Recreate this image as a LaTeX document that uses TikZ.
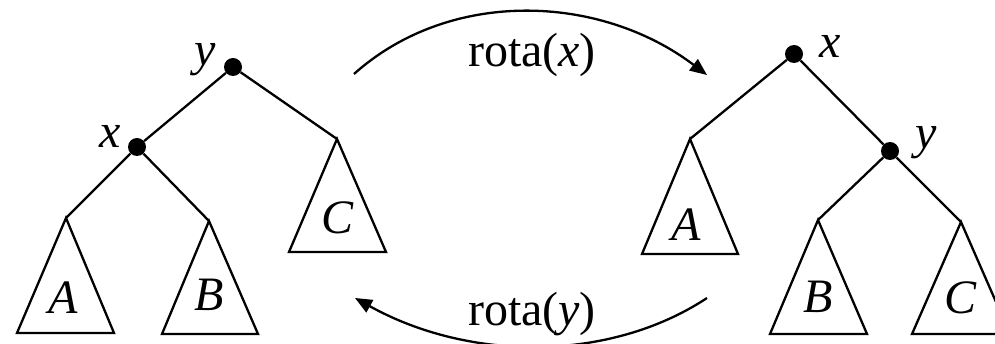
\documentclass[tikz,border=0pt]{standalone}
\usepackage{fontspec}
\setmainfont{Liberation Serif}
\usetikzlibrary{arrows.meta}
\tikzset{
  dot/.style={circle,fill=black,inner sep=0pt,minimum size=18pt},
  lbl/.style={inner sep=0pt,font=\fontsize{48}{56}\selectfont},
  edge/.style={line width=2.3pt},
  tri/.style={line width=2.3pt,line join=miter},
  rot/.style={line width=2.3pt,-{Triangle[length=17pt,width=14pt]}}
}
\begin{document}
\begin{tikzpicture}[x=1pt,y=-1pt]
\useasboundingbox (0,0) rectangle (995,344);
% left tree
\node[dot] (ly) at (233,67) {};
\node[dot] (lx) at (137,147) {};
\coordinate (lCa) at (337,139);
\coordinate (lAa) at (66,218);
\coordinate (lBa) at (209,221);
\draw[edge] (ly) -- (lx);
\draw[edge] (ly) -- (lCa);
\draw[edge] (lx) -- (lAa);
\draw[edge] (lx) -- (lBa);
\draw[tri] (lCa) -- (289,252) -- (386,252) -- cycle;
\draw[tri] (lAa) -- (17,333) -- (114,333) -- cycle;
\draw[tri] (lBa) -- (162,334) -- (258,334) -- cycle;
\node[lbl] (lyl) at (205,60) {\itshape y};
\node[lbl] (lxl) at (110,136) {\itshape x};
\node[lbl] (lCl) at (338,218) {\itshape C};
\node[lbl] (lAl) at (63,298) {\itshape A};
\node[lbl] (lBl) at (209,295) {\itshape B};
% right tree
\node[dot] (rx) at (794,54) {};
\node[dot] (ry) at (890,151) {};
\coordinate (rAa) at (690,139);
\coordinate (rBa) at (818,220);
\coordinate (rCa) at (961,222);
\draw[edge] (rx) -- (rAa);
\draw[edge] (rx) -- (ry);
\draw[edge] (ry) -- (rBa);
\draw[edge] (ry) -- (rCa);
\draw[tri] (rAa) -- (642,254) -- (738,254) -- cycle;
\draw[tri] (rBa) -- (770,334) -- (867,334) -- cycle;
\draw[tri] (rCa) -- (912,334) -- (1010,334) -- cycle;
\node[lbl] (rxl) at (830,46) {\itshape x};
\node[lbl] (ryl) at (926,143) {\itshape y};
\node[lbl] (rAl) at (686,225) {\itshape A};
\node[lbl] (rBl) at (818,297) {\itshape B};
\node[lbl] (rCl) at (960,298) {\itshape C};
% arrows
\coordinate (t1) at (354,74);
\coordinate (t2) at (707,75);
\draw[rot] (t1) .. controls (450,-12) and (600,-6) .. (t2);
\node[lbl] (tl) at (532,55) {rota(\textit{x})};
\coordinate (b1) at (707,298);
\coordinate (b2) at (355,298);
\draw[rot] (b1) .. controls (610,362) and (470,362) .. (b2);
\node[lbl] (bl) at (532,314) {rota(\textit{y})};
\end{tikzpicture}
\end{document}
